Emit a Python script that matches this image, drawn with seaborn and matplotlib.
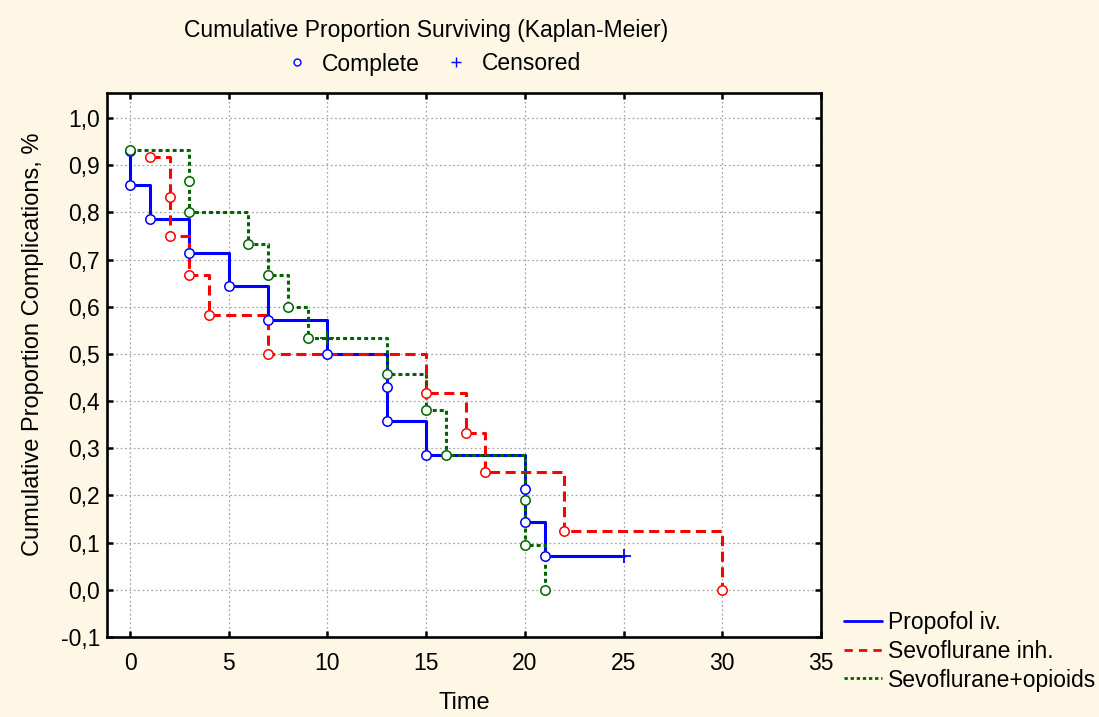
import numpy as np
import pandas as pd
import matplotlib
matplotlib.use("Agg")
import matplotlib.pyplot as plt
from matplotlib.lines import Line2D
from matplotlib.ticker import FuncFormatter
import seaborn as sns

# Kaplan-Meier step data: time, cumulative proportion, event flag (1 = complete, 0 = censored)
propofol_time = [0, 0, 1, 3, 5, 7, 10, 13, 13, 15, 20, 20, 21, 25]
propofol_surv = [0.929, 0.857, 0.786, 0.714, 0.643, 0.571, 0.500,
                 0.429, 0.357, 0.286, 0.214, 0.143, 0.071, 0.071]
propofol_event = [1, 1, 1, 1, 1, 1, 1, 1, 1, 1, 1, 1, 1, 0]

sevo_time = [1, 2, 2, 3, 4, 7, 15, 17, 18, 22, 30]
sevo_surv = [0.917, 0.833, 0.750, 0.667, 0.583, 0.500, 0.417, 0.333, 0.250, 0.125, 0.000]
sevo_event = [1, 1, 1, 1, 1, 1, 1, 1, 1, 1, 1]

opioid_time = [0, 3, 3, 6, 7, 8, 9, 10, 13, 15, 16, 20, 20, 21]
opioid_surv = [0.933, 0.867, 0.800, 0.733, 0.667, 0.600, 0.533, 0.533,
               0.457, 0.381, 0.286, 0.190, 0.095, 0.000]
opioid_event = [1, 1, 1, 1, 1, 1, 1, 0, 1, 1, 1, 1, 1, 1]

group_names = ["Propofol iv.", "Sevoflurane inh.", "Sevoflurane+opioids"]

x_ticks = [0, 5, 10, 15, 20, 25, 30, 35]
y_ticks = [-0.1, 0.0, 0.1, 0.2, 0.3, 0.4, 0.5, 0.6, 0.7, 0.8, 0.9, 1.0]

BG = "#fef7e6"
BLUE = "#0000ff"
RED = "#ff0000"
GREEN = "#006400"

sns.set_theme(style="white")
plt.rcParams["font.family"] = ["Liberation Sans", "DejaVu Sans"]
plt.rcParams["text.color"] = "black"
plt.rcParams["axes.labelcolor"] = "black"

fig = plt.figure(figsize=(10.99, 7.17), dpi=100, facecolor=BG)
ax = fig.add_axes([0.0974, 0.1116, 0.6496, 0.7587])
ax.set_facecolor("white")

styles = [
    dict(color=BLUE, linestyle="-", linewidth=2.2, zorder=2.0),
    dict(color=RED, linestyle=(0, (3.3, 1.8)), linewidth=2.2, zorder=2.1),
    dict(color=GREEN, linestyle=(0, (1.3, 1.0)), linewidth=2.2, zorder=2.2),
]
series = [
    (propofol_time, propofol_surv, propofol_event),
    (sevo_time, sevo_surv, sevo_event),
    (opioid_time, opioid_surv, opioid_event),
]

for name, (t, s, e), st in zip(group_names, series, styles):
    df = pd.DataFrame({"time": t, "surv": s, "event": e})
    sns.lineplot(data=df, x="time", y="surv", estimator=None, sort=False,
                 drawstyle="steps-post", ax=ax, **st)
    done = df[df["event"] == 1]
    cens = df[df["event"] == 0]
    sns.scatterplot(data=done, x="time", y="surv", marker="o", s=46,
                    color=st["color"], facecolor="white", edgecolor=st["color"],
                    linewidth=1.1, zorder=3, ax=ax)
    if len(cens):
        sns.scatterplot(data=cens, x="time", y="surv", marker="+", s=100,
                        color=st["color"], edgecolor=None, linewidth=1.3,
                        zorder=3, ax=ax)

ax.set_xlim(-1.165, 35)
ax.set_ylim(-0.1, 1.053)
ax.set_xticks(x_ticks)
ax.set_yticks(y_ticks)
ax.xaxis.set_major_formatter(FuncFormatter(lambda v, p: f"{v:.0f}"))
ax.yaxis.set_major_formatter(FuncFormatter(lambda v, p: f"{v:.1f}".replace(".", ",")))
ax.grid(True, color="#a8a8a8", linestyle=(0, (1.5, 2.0)), linewidth=0.9)
ax.set_axisbelow(True)
for sp in ax.spines.values():
    sp.set_visible(True)
    sp.set_color("black")
    sp.set_linewidth(1.9)
ax.tick_params(axis="both", which="both", direction="in", length=4, width=1.8,
               top=True, right=True, bottom=True, left=True,
               labelsize=16.5, colors="black")
ax.tick_params(axis="x", pad=11)
ax.tick_params(axis="y", pad=5)
ax.set_xlabel("")
ax.set_ylabel("")

fig.text(464 / 1099, 1 - 703 / 717, "Time", ha="center", va="center", fontsize=17)
fig.text(33 / 1099, 1 - 344 / 717, "Cumulative Proportion Complications, %",
         rotation=90, ha="center", va="center", fontsize=17)
fig.text(426 / 1099, 1 - 30 / 717, "Cumulative Proportion Surviving (Kaplan-Meier)",
         ha="center", va="center", fontsize=16.5)

marker_handles = [
    Line2D([], [], linestyle="", marker="o", markersize=5, markerfacecolor="white",
           markeredgecolor=BLUE, markeredgewidth=1.0),
    Line2D([], [], linestyle="", marker="+", markersize=7, color=BLUE,
           markeredgewidth=1.0),
]
fig.legend(marker_handles, ["Complete", "Censored"], ncol=2, frameon=False,
           loc="center", bbox_to_anchor=(433 / 1099, 1 - 64 / 717),
           fontsize=16.5, handlelength=1.0, handletextpad=0.6, columnspacing=1.1)

line_handles = [
    Line2D([], [], color=BLUE, linestyle="-", linewidth=2.0),
    Line2D([], [], color=RED, linestyle=(0, (3.0, 2.2)), linewidth=2.0),
    Line2D([], [], color=GREEN, linestyle=(0, (1.2, 1.0)), linewidth=2.0),
]
fig.legend(line_handles, group_names, frameon=False, loc="upper left",
           bbox_to_anchor=(828 / 1099, 1 - 595 / 717), fontsize=16.5,
           handlelength=1.65, handletextpad=0.25, labelspacing=0.25,
           borderpad=0.2)

fig.savefig("out.png", dpi=100, facecolor=BG)
